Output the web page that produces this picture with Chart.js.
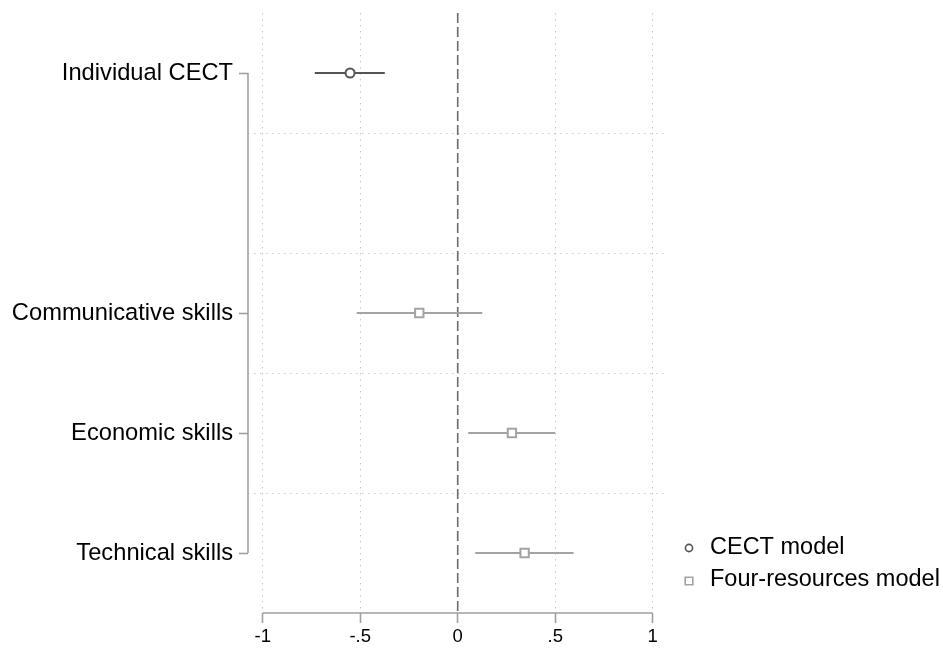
<!DOCTYPE html>
<html>
<head>
<meta charset="utf-8">
<script src="https://cdn.jsdelivr.net/npm/chart.js@4/dist/chart.umd.min.js"></script>
<style>
  html, body { margin: 0; padding: 0; background: #ffffff; }
  #wrap { width: 943px; height: 650px; position: relative; }
  canvas { display: block; }
</style>
</head>
<body>
<div id="wrap"><canvas id="chart" width="943" height="650"></canvas></div>
<script>
// Coefficient plot: point estimates with confidence intervals
const categories = ['Individual CECT', 'Communicative skills', 'Economic skills', 'Technical skills'];
const rowSlots   = [1, 3, 4, 5];            // row index on the y axis (slot 2 left empty)
const estimates  = [-0.552, -0.197, 0.278, 0.343];
const ciLow      = [-0.733, -0.518, 0.054, 0.090];
const ciHigh     = [-0.374, 0.126, 0.500, 0.594];
const modelNames = ['CECT model', 'Four-resources model'];
const rowModel   = [0, 1, 1, 1];            // which model each row belongs to
const xTickValues = [-1, -0.5, 0, 0.5, 1];
const xTickLabels = ['-1', '-.5', '0', '.5', '1'];

const modelColors = ['#555555', '#a3a3a3'];
const modelPointStyles = ['circle', 'rect'];
const modelRadius = [4.5, 5.9];
const axisGray = '#a0a0a0';
const gridGray = '#c8c8c8';
const labelFont = "'Liberation Sans', Arial, sans-serif";

const yTickValues = [];
for (let v = 1; v <= 5; v += 0.5) yTickValues.push(v);

const datasets = [];

// markers, one dataset per model
modelNames.forEach((name, m) => {
  const pts = [];
  rowModel.forEach((rm, i) => { if (rm === m) pts.push({ x: estimates[i], y: rowSlots[i] }); });
  datasets.push({
    type: 'scatter',
    label: name,
    data: pts,
    pointStyle: modelPointStyles[m],
    pointRadius: modelRadius[m],
    pointBorderWidth: 2,
    pointBorderColor: modelColors[m],
    pointBackgroundColor: '#ffffff',
    borderColor: modelColors[m],
    backgroundColor: '#ffffff',
    order: 0,
    isMarker: true
  });
});

// confidence interval spikes
categories.forEach((c, i) => {
  datasets.push({
    type: 'line',
    label: c + ' CI',
    data: [{ x: ciLow[i], y: rowSlots[i] }, { x: ciHigh[i], y: rowSlots[i] }],
    borderColor: modelColors[rowModel[i]],
    borderWidth: 2,
    pointRadius: 0,
    fill: false,
    order: 1
  });
});

// reference line at zero
datasets.push({
  type: 'line',
  label: 'zero',
  data: [{ x: 0, y: 0.5 }, { x: 0, y: 5.5 }],
  borderColor: '#6a6a6a',
  borderWidth: 1.6,
  borderDash: [10, 4],
  pointRadius: 0,
  fill: false,
  order: 2
});

// axis lines that span only the labelled range, plus a legend on the right
const decorations = {
  id: 'decorations',
  beforeDatasetsDraw(chart) {
    const { ctx, chartArea, scales } = chart;
    const xs = scales.x, ys = scales.y;
    ctx.save();
    ctx.strokeStyle = axisGray;
    ctx.lineWidth = 1.6;
    ctx.setLineDash([]);
    ctx.beginPath();
    ctx.moveTo(chartArea.left, ys.getPixelForValue(rowSlots[0]));
    ctx.lineTo(chartArea.left, ys.getPixelForValue(rowSlots[rowSlots.length - 1]));
    ctx.moveTo(xs.getPixelForValue(xTickValues[0]), chartArea.bottom);
    ctx.lineTo(xs.getPixelForValue(xTickValues[xTickValues.length - 1]), chartArea.bottom);
    ctx.stroke();
    ctx.restore();
  },
  afterDraw(chart) {
    const { ctx, chartArea } = chart;
    const markerX = chartArea.right + 22;
    const textX = chartArea.right + 43;
    const firstY = 547;
    const rowGap = 32;
    ctx.save();
    ctx.font = '23.5px ' + labelFont;
    ctx.textBaseline = 'middle';
    ctx.textAlign = 'left';
    chart.data.datasets.filter(d => d.isMarker).forEach((d, k) => {
      const y = firstY + k * rowGap;
      ctx.fillStyle = '#ffffff';
      ctx.strokeStyle = d.pointBorderColor;
      ctx.lineWidth = 1.6;
      ctx.beginPath();
      if (d.pointStyle === 'circle') {
        ctx.arc(markerX, y + 1, 3.6, 0, Math.PI * 2);
      } else {
        ctx.rect(markerX - 3.8, y + 2 - 3.8, 7.6, 7.6);
      }
      ctx.fill();
      ctx.stroke();
      ctx.fillStyle = '#000000';
      ctx.fillText(d.label, textX, y + 1);
    });
    ctx.restore();
  }
};

new Chart(document.getElementById('chart'), {
  data: { datasets },
  plugins: [decorations],
  options: {
    responsive: false,
    animation: false,
    devicePixelRatio: 1,
    layout: { padding: { left: 0, right: 276, top: 13, bottom: 0 } },
    plugins: {
      legend: { display: false },
      tooltip: { enabled: false }
    },
    scales: {
      x: {
        type: 'linear',
        position: 'bottom',
        min: -1.0754,
        max: 1.0733,
        afterBuildTicks(scale) { scale.ticks = xTickValues.map(v => ({ value: v })); },
        afterFit(scale) { scale.height = 37; scale.paddingLeft = 0; scale.paddingRight = 0; },
        border: { display: false, dash: [1.5, 4.5] },
        grid: {
          color: ctx => (ctx.tick && ctx.tick.value === 0) ? 'rgba(0,0,0,0)' : gridGray,
          lineWidth: 1,
          tickColor: axisGray,
          tickWidth: 1.6,
          tickLength: 10,
          tickBorderDash: []
        },
        ticks: {
          color: '#000000',
          padding: 3,
          maxRotation: 0,
          autoSkip: false,
          font: { family: labelFont, size: 18.5 },
          callback: (value) => {
            const k = xTickValues.indexOf(value);
            return k >= 0 ? xTickLabels[k] : '';
          }
        }
      },
      y: {
        type: 'linear',
        position: 'left',
        reverse: true,
        min: 0.5,
        max: 5.5,
        afterBuildTicks(scale) { scale.ticks = yTickValues.map(v => ({ value: v })); },
        afterFit(scale) { scale.width = 248; scale.paddingTop = 0; scale.paddingBottom = 0; },
        border: { display: false, dash: [1.5, 4.5] },
        grid: {
          color: ctx => (ctx.tick && ctx.tick.value % 1 !== 0) ? gridGray : 'rgba(0,0,0,0)',
          lineWidth: 1,
          tickColor: ctx => (ctx.tick && rowSlots.includes(ctx.tick.value)) ? axisGray : 'rgba(0,0,0,0)',
          tickWidth: 1.6,
          tickLength: 9,
          tickBorderDash: []
        },
        ticks: {
          color: '#000000',
          padding: 6,
          autoSkip: false,
          font: { family: labelFont, size: 23.7 },
          callback: (value) => {
            const k = rowSlots.indexOf(value);
            return k >= 0 ? categories[k] : '';
          }
        }
      }
    }
  }
});
</script>
</body>
</html>
